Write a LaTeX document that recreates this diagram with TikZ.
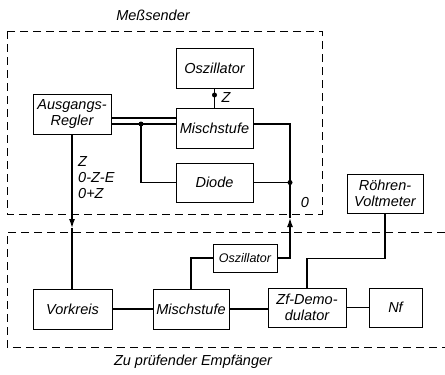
\documentclass[tikz,border=0pt]{standalone}
\usepackage{fontspec}
\setsansfont{Liberation Sans}
\usetikzlibrary{arrows.meta}

\begin{document}
\begin{tikzpicture}[x=1pt, y=-1pt,
  block/.style={rectangle, draw, line width=0.7pt, minimum width=#1, minimum height=40pt, inner sep=1pt, align=center,
    font=\sffamily\itshape\fontsize{14.5}{15.5}\selectfont},
  lbl/.style={inner sep=0pt, align=left, font=\sffamily\itshape\fontsize{14.5}{16}\selectfont},
  wire/.style={line width=1.2pt},
  arrowwire/.style={line width=1.2pt, -{Latex[length=9pt,width=6pt]}},
  frame/.style={dash pattern=on 8pt off 5pt, line width=0.8pt},
  dot/.style={circle, fill, inner sep=0pt, minimum size=5pt}
]
  \useasboundingbox (0,0) rectangle (445,375);

  % Messsender
  \draw[frame] (7,31) rectangle (322,214);
  \node[lbl] (tsend) at (153,15) {Meßsender};
  \node[block=77pt] (osc) at (214.5,68)  {Oszillator};
  \node[block=77pt] (mix) at (214.5,128) {Mischstufe};
  \node[block=78pt] (regler) at (72,114) {Ausgangs-\\Regler};
  \node[block=77pt, minimum height=39pt] (diode) at (214.5,182.5) {Diode};

  % Empfaenger
  \draw[frame] (445,232) -- (7,232) -- (7,347) -- (445,347);
  \node[lbl] (tempf) at (193,362) {Zu prüfender Empfänger};
  \node[block=79pt] (vork) at (72.5,309) {Vorkreis};
  \node[block=76pt] (mix2) at (191,309) {Mischstufe};
  \node[block=78pt, minimum height=39pt] (zfd) at (307,307.5) {Zf-Demo-\\dulator};
  \node[block=53pt, minimum height=39pt] (nf) at (395.5,307.5) {Nf};
  \node[block=64pt, minimum height=28pt, inner sep=0pt, font=\sffamily\itshape\fontsize{12.5}{14}\selectfont] (osz2) at (245,258) {Oszillator};
  \node[block=76pt, minimum height=39pt] (rvm) at (385,193.5) {Röhren-\\Voltmeter};

  \coordinate (j1) at (141,124);
  \coordinate (j2) at (290,182.5);
  \coordinate (a1) at (72,228);
  \coordinate (a2) at (290,218);

  \draw[wire] (osc) -- (mix);
  \node[dot] (d0) at (214.5,95) {};
  \node[lbl] (lz) at (226,98) {Z};
  \draw[wire] ([yshift=-4pt]regler.east) -- ([yshift=-4pt]regler.east -| mix.west);
  \draw[wire] ([yshift=-10pt]regler.east) -- ([yshift=4pt]mix.west);
  \draw[wire] (j1) |- (diode.west);
  \node[dot] (d1) at (j1) {};
  \draw[wire] ([yshift=4pt]mix.east) -| (j2);
  \draw[wire] (diode.east) -- (j2);
  \node[dot] (d2) at (j2) {};
  \draw[arrowwire] (osz2.east) -| (a2);
  \draw[wire] (a2) -- (j2);
  \node[lbl] (l0) at (305,203) {0};

  \draw[arrowwire] (regler.south) -- (a1);
  \draw[wire] (a1) -- (a1 |- vork.north);
  \node[lbl, anchor=north west] (lmode) at (78,156) {Z\\0-Z-E\\0+Z};

  \draw[wire] (vork) -- (mix2);
  \draw[wire] (mix2.east) -- (mix2.east -| zfd.west);
  \draw[wire] (zfd) -- (nf);
  \draw[wire] (mix2.north) |- (osz2.west);
  \draw[wire] (rvm.south) -- ++(0,45) -| (zfd.north);
\end{tikzpicture}
\end{document}
